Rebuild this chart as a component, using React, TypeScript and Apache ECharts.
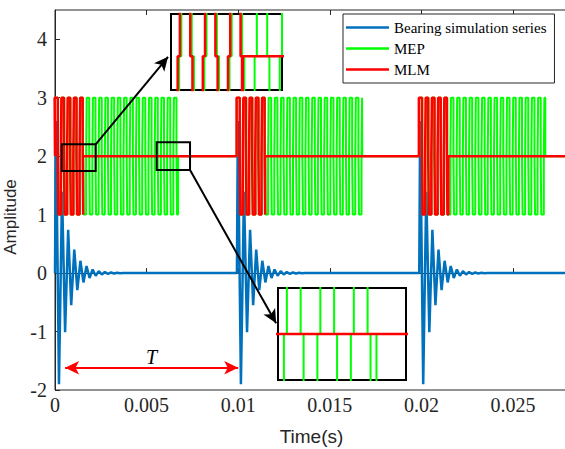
import React, { useEffect, useRef } from "react";
import * as echarts from "echarts";

// ---------- data ----------
const xTicks = [0, 0.005, 0.01, 0.015, 0.02, 0.025];
const yTicks = [-2, -1, 0, 1, 2, 3, 4];
const xRange = [0, 0.028];
const yRange = [-2, 4.5];
const seriesNames = ["Bearing simulation series", "MEP", "MLM"];

// Bearing simulation series: impulse onsets (s) and successive extremes of each response
const impulseOnsets = [0, 0.00993, 0.01988];
const impulsePeaks = [
  2.6, -1.9, 1.39, -1.01, 0.74, -0.55, 0.4, -0.29, 0.21, -0.16, 0.12, -0.085,
  0.062, -0.045, 0.033, -0.024, 0.018, -0.013, 0.01, -0.007, 0.005, -0.004,
];
const firstPeakDelay = 0.00005;
const peakSpacing = 0.000167;

// MEP / MLM pulse bursts [start, end] (s)
const mepBursts = [
  [0, 0.00672],
  [0.00993, 0.01677],
  [0.01988, 0.02676],
];
const mlmBursts = [
  [-0.00002, 0.00153],
  [0.00991, 0.01147],
  [0.01986, 0.02147],
];
const pulseHalfPeriod = 0.00017;
const transitionStep = 0.00003;
const levelHigh = 3;
const levelIdle = 2;
const levelLow = 1;

// zoom boxes drawn on the main axes [t0, t1, y0, y1]
const boxA = [0.00037, 0.00222, 1.746, 2.203];
const boxB = [0.00555, 0.00737, 1.763, 2.237];
// ranges shown inside the two magnified insets [t0, t1, y0, y1]
const insetA = [0.00057, 0.00207, 1.76, 2.3];
const insetB = [0.00572, 0.00702, 1.763, 2.237];

// period marker
const periodMarker = { t0: 0.00055, t1: 0.01, y: -1.62, label: "T" };

// ---------- build series ----------
function buildBearing(): number[][] {
  const pts: number[][] = [[xRange[0], 0]];
  impulseOnsets.forEach((t0) => {
    pts.push([t0, 0]);
    impulsePeaks.forEach((v, i) => pts.push([t0 + firstPeakDelay + i * peakSpacing, v]));
    pts.push([t0 + firstPeakDelay + impulsePeaks.length * peakSpacing, 0]);
  });
  pts.push([xRange[1], 0]);
  return pts;
}

function buildPulses(bursts: number[][]): number[][] {
  const pts: number[][] = [[xRange[0], levelIdle]];
  bursts.forEach(([s, e]) => {
    pts.push([s, levelIdle], [s, levelHigh]);
    let level = levelHigh;
    let t = s + pulseHalfPeriod;
    while (t < e) {
      const next = level === levelHigh ? levelLow : levelHigh;
      pts.push([t, level], [t, levelIdle], [t + transitionStep, levelIdle], [t + transitionStep, next]);
      level = next;
      t += pulseHalfPeriod;
    }
    pts.push([e, level], [e, levelIdle]);
  });
  pts.push([xRange[1], levelIdle]);
  return pts;
}

const bearingData = buildBearing();
const mepData = buildPulses(mepBursts);
const mlmData = buildPulses(mlmBursts);

const colors = ["#0072BD", "#00FF00", "#FF0000"];
const widths = [2.5, 2, 2.5];
const datasets = [bearingData, mepData, mlmData];

const axisColor = "#262626";
const serif = "'Liberation Serif', 'Times New Roman', serif";
const sans = "'Liberation Sans', Arial, sans-serif";

function lineSeries(i: number, xIdx: number, yIdx: number, z: number) {
  return {
    type: "line",
    name: seriesNames[i],
    xAxisIndex: xIdx,
    yAxisIndex: yIdx,
    data: datasets[i],
    showSymbol: false,
    symbol: "none",
    clip: true,
    z,
    silent: true,
    emphasis: { disabled: true },
    lineStyle: { color: colors[i], width: widths[i] },
    itemStyle: { color: colors[i] },
  };
}

const insetAxis = (gridIndex: number, min: number, max: number) => ({
  type: "value",
  gridIndex,
  min,
  max,
  show: false,
});

const option: any = {
  animation: false,
  backgroundColor: "#ffffff",
  tooltip: { show: false },
  legend: {
    data: seriesNames,
    orient: "vertical",
    left: 343,
    top: 14,
    padding: [6, 8, 6, 3],
    itemGap: 6,
    itemWidth: 43,
    itemHeight: 2.5,
    icon: "rect",
    backgroundColor: "#ffffff",
    borderColor: axisColor,
    borderWidth: 1,
    selectedMode: false,
    textStyle: { fontFamily: serif, fontSize: 15, color: "#000" },
  },
  grid: [
    {
      left: 55,
      top: 10,
      right: -3,
      bottom: 59,
      outerBoundsMode: "none",
      containLabel: false,
      show: true,
      borderColor: axisColor,
      borderWidth: 1,
      backgroundColor: "#ffffff",
    },
    {
      left: 171,
      top: 14,
      width: 111,
      height: 76,
      outerBoundsMode: "none",
      show: true,
      borderColor: "#000",
      borderWidth: 2,
      backgroundColor: "#ffffff",
      z: 10,
    },
    {
      left: 278,
      top: 288,
      width: 128,
      height: 92,
      outerBoundsMode: "none",
      show: true,
      borderColor: "#000",
      borderWidth: 2,
      backgroundColor: "#ffffff",
      z: 10,
    },
  ],
  xAxis: [
    {
      type: "value",
      gridIndex: 0,
      min: xRange[0],
      max: xRange[1],
      interval: xTicks[1] - xTicks[0],
      name: "Time(s)",
      nameLocation: "middle",
      nameGap: 37,
      nameTextStyle: { fontFamily: sans, fontSize: 19, color: axisColor },
      axisLine: { show: true, lineStyle: { color: axisColor, width: 1 } },
      axisTick: { show: true, inside: true, length: 5, lineStyle: { color: axisColor } },
      axisLabel: {
        fontFamily: serif,
        fontSize: 20,
        color: axisColor,
        margin: 5,
        showMaxLabel: false,
        formatter: (v: number) => (xTicks.some((t) => Math.abs(t - v) < 1e-9) ? String(+v.toFixed(4)) : ""),
      },
      splitLine: { show: false },
    },
    {
      type: "value",
      gridIndex: 0,
      position: "top",
      min: xRange[0],
      max: xRange[1],
      interval: xTicks[1] - xTicks[0],
      axisLine: { show: false },
      axisTick: { show: true, inside: true, length: 5, lineStyle: { color: axisColor } },
      axisLabel: { show: false },
      splitLine: { show: false },
    },
    insetAxis(1, insetA[0], insetA[1]),
    insetAxis(2, insetB[0], insetB[1]),
  ],
  yAxis: [
    {
      type: "value",
      gridIndex: 0,
      min: yRange[0],
      max: yRange[1],
      interval: yTicks[1] - yTicks[0],
      name: "Amplitude",
      nameLocation: "middle",
      nameGap: 29,
      nameTextStyle: { fontFamily: sans, fontSize: 17, color: axisColor, padding: [0, 34, 0, 0] },
      axisLine: { show: true, lineStyle: { color: axisColor, width: 1 } },
      axisTick: { show: true, inside: true, length: 5, lineStyle: { color: axisColor } },
      axisLabel: {
        fontFamily: serif,
        fontSize: 20,
        color: axisColor,
        margin: 8,
        showMaxLabel: false,
        formatter: (v: number) => (yTicks.includes(v) ? String(v) : ""),
      },
      splitLine: { show: false },
    },
    insetAxis(1, insetA[2], insetA[3]),
    insetAxis(2, insetB[2], insetB[3]),
  ],
  series: [
    lineSeries(0, 0, 0, 2),
    lineSeries(1, 0, 0, 2),
    lineSeries(2, 0, 0, 2),
    {
      type: "line",
      name: "_annotations",
      xAxisIndex: 0,
      yAxisIndex: 0,
      data: [[boxA[0], boxA[2]]],
      showSymbol: false,
      symbol: "none",
      lineStyle: { opacity: 0 },
      silent: true,
      z: 6,
      markArea: {
        silent: true,
        z: 6,
        itemStyle: { color: "rgba(0,0,0,0)", borderColor: "#000", borderWidth: 2 },
        label: { show: false },
        data: [
          [
            { xAxis: boxA[0], yAxis: boxA[2] },
            { xAxis: boxA[1], yAxis: boxA[3] },
          ],
          [
            { xAxis: boxB[0], yAxis: boxB[2] },
            { xAxis: boxB[1], yAxis: boxB[3] },
          ],
        ],
      },
      markLine: {
        silent: true,
        z: 6,
        symbolSize: [10, 14],
        precision: 6,
        data: [
          [
            {
              coord: [periodMarker.t0, periodMarker.y],
              symbol: "arrow",
              lineStyle: { color: "#FF0000", width: 2, type: "solid" },
              label: {
                show: true,
                position: "middle",
                formatter: periodMarker.label,
                fontFamily: serif,
                fontStyle: "italic",
                fontSize: 20,
                color: "#000",
                distance: 1,
              },
            },
            { coord: [periodMarker.t1, periodMarker.y], symbol: "arrow" },
          ],
          [
            {
              coord: [boxA[1], boxA[3]],
              symbol: "none",
              lineStyle: { color: "#000", width: 2, type: "solid" },
              label: { show: false },
            },
            { coord: [0.00617, 3.7], symbol: "arrow" },
          ],
          [
            {
              coord: [boxB[1], boxB[2]],
              symbol: "none",
              lineStyle: { color: "#000", width: 2, type: "solid" },
              label: { show: false },
            },
            { coord: [0.01207, -0.86], symbol: "arrow" },
          ],
        ],
      },
    },
    lineSeries(0, 2, 1, 12),
    lineSeries(1, 2, 1, 12),
    lineSeries(2, 2, 1, 12),
    lineSeries(0, 3, 2, 12),
    lineSeries(1, 3, 2, 12),
    lineSeries(2, 3, 2, 12),
  ],
};

export default function App() {
  const ref = useRef<HTMLDivElement>(null);
  useEffect(() => {
    if (!ref.current) return;
    const chart = echarts.init(ref.current, null, { renderer: "svg" });
    chart.setOption(option);
    return () => chart.dispose();
  }, []);
  return (
    <div
      ref={ref}
      style={{ position: "absolute", left: 0, top: 0, width: 565, height: 449, background: "#fff" }}
    />
  );
}
